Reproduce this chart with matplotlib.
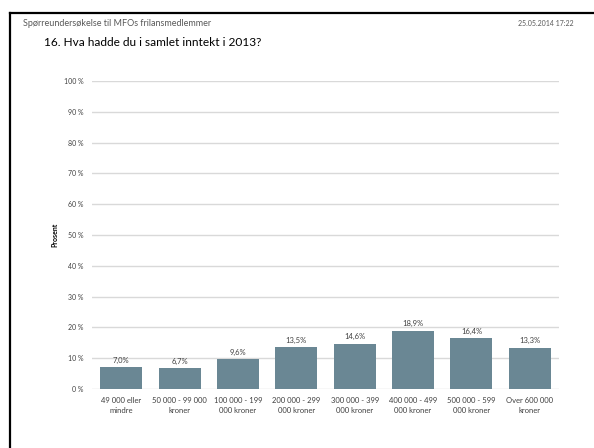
import matplotlib
matplotlib.use("Agg")
import matplotlib.pyplot as plt
from matplotlib.lines import Line2D

# Inntekt 2013, andel av svarene i prosent
categories = ["49 000 eller\nmindre", "50 000 - 99 000\nkroner", "100 000 - 199\n000 kroner",
              "200 000 - 299\n000 kroner", "300 000 - 399\n000 kroner", "400 000 - 499\n000 kroner",
              "500 000 - 599\n000 kroner", "Over 600 000\nkroner"]
values = [7.0, 6.7, 9.6, 13.5, 14.6, 18.9, 16.4, 13.3]
yticks = list(range(0, 101, 10))

plt.rcParams['font.family'] = ['Lato', 'DejaVu Sans']

fig = plt.figure(figsize=(5.94, 4.48), dpi=100)
ax = fig.add_axes([92/594, 1 - 389/448, 467/594, 308/448])

x = range(len(values))
ax.bar(x, values, width=0.72, color="#6a8794", zorder=3)
for i, v in enumerate(values):
    ax.text(i, v + 1.2, ("%.1f%%" % v).replace(".", ","), ha="center", va="bottom",
            fontsize=5.5, color="#404040")

ax.set_xlim(-0.5, len(values) - 0.5)
ax.set_ylim(0, 100)
ax.set_yticks(yticks)
ax.set_yticklabels(["%d %%" % t for t in yticks], fontsize=5, color="#404040")
ax.set_xticks(list(x))
ax.set_xticklabels(categories, fontsize=5.5, color="#404040", linespacing=1.5)
ax.tick_params(length=0, pad=6)
ax.yaxis.grid(True, color="#d9d9d9", linewidth=1, zorder=0)
for s in ax.spines.values():
    s.set_visible(False)
ax.set_ylabel("Prosent", fontsize=5, fontweight="bold", labelpad=4)

# sideramme og topptekst
fig.add_artist(Line2D([10/594, 10/594], [0, 1 - 13/448], color="black", linewidth=1.6))
fig.add_artist(Line2D([10/594, 1], [1 - 13/448, 1 - 13/448], color="black", linewidth=1.6))
fig.text(23/594, 1 - 23/448, "Spørreundersøkelse til MFOs frilansmedlemmer", fontsize=6.5,
         color="#595959", va="center")
fig.text(573/594, 1 - 23/448, "25.05.2014 17:22", fontsize=5, color="#595959",
         va="center", ha="right")
fig.text(44/594, 1 - 42/448, "16. Hva hadde du i samlet inntekt i 2013?", fontsize=8.6,
         color="black", va="center")

fig.savefig("out.png", dpi=100)
